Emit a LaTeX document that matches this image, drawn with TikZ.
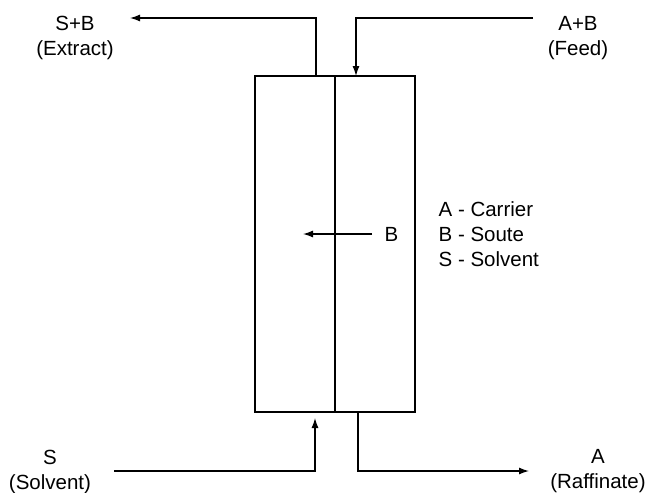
\documentclass[tikz,border=0pt]{standalone}
\usepackage{fontspec}
\setmainfont{Liberation Sans}
\usetikzlibrary{arrows.meta}
\begin{document}
\begin{tikzpicture}[x=1pt,y=-1pt,line width=1.3pt,
  flow/.style={-{Latex[length=10pt,width=7pt]}},
  half/.style={draw,minimum width=80pt,minimum height=336pt,inner sep=0pt,outer sep=0pt},
  lbl/.style={font=\fontsize{20.5}{25}\selectfont,inner sep=0pt,align=center}]
\useasboundingbox (0,0) rectangle (649,493);
% column halves
\node[half] (L) at (295,244) {};
\node[half] (R) at (375,244) {};
% connector points
\coordinate (exbot) at (316,76);
\coordinate (extip) at (130,18);
\coordinate (fdstart) at (533,18);
\coordinate (fdtip) at (356,76);
\coordinate (svstart) at (114,471);
\coordinate (svtip) at (315,418);
\coordinate (rfstart) at (358,412);
\coordinate (rftip) at (529,471);
\coordinate (bstart) at (372,234);
\coordinate (btip) at (303,234);
% labels
\node[lbl] (ext) at (75,38) {S+B\\(Extract)};
\node[lbl] (feed) at (578,38) {A+B\\(Feed)};
\node[lbl] (solv) at (50,471.5) {S\\(Solvent)};
\node[lbl] (raff) at (598,471.5) {A\\(Raffinate)};
\node[lbl,anchor=west] (blbl) at (384,234) {B};
\node[lbl,anchor=west,align=left] (legend) at (438,234.5) {A - Carrier\\B - Soute\\S - Solvent};
% connectors
\draw[flow] (exbot) |- (extip);
\draw[flow] (fdstart) -| (fdtip);
\draw[flow] (svstart) -| (svtip);
\draw[flow] (rfstart) |- (rftip);
\draw[flow] (bstart) -- (btip);
\end{tikzpicture}
\end{document}
